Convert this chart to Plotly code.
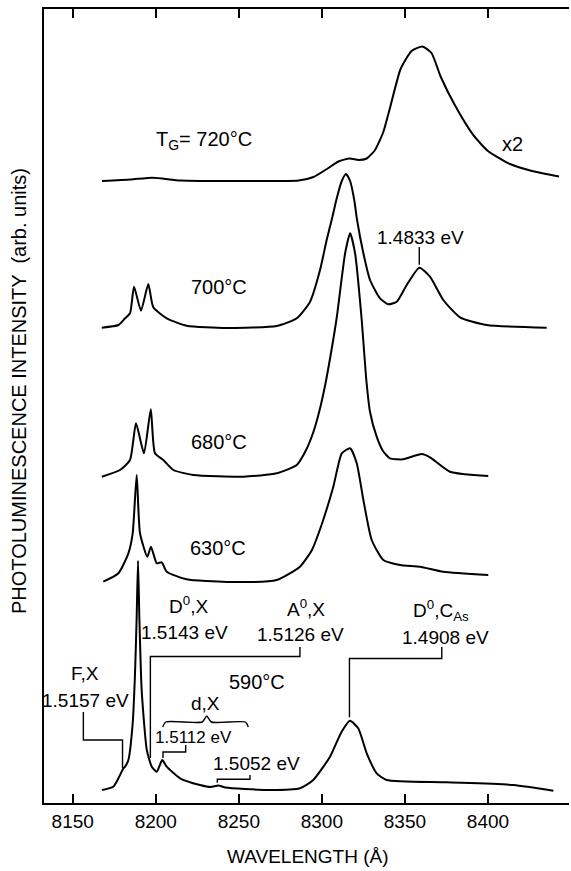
import numpy as np
import plotly.graph_objects as go

# ---------------- data (wavelength in Å, intensity in arb. units above each trace's baseline) -------------
wl_720 = [8167.6, 8185.0, 8198.3, 8215.0, 8250.0, 8286.0, 8295.0, 8303.0, 8310.0, 8316.7, 8322.0,
          8327.0, 8332.0, 8337.0, 8341.0, 8347.4, 8354.0, 8360.5, 8366.0, 8371.5, 8380.2, 8391.0,
          8400.0, 8413.3, 8426.5, 8442.8]
in_720 = [0, 1.5, 3.3, 0.5, 0, 0.5, 4, 12, 19.5, 22.6, 21,
          22.5, 31, 49, 73, 112, 130, 134.4, 128, 104.5, 75.4, 46.3,
          30, 17, 10, 4.4]

wl_700 = [8167.5, 8177.5, 8181.5, 8184.5, 8186.9, 8191.1, 8195.5, 8198.5, 8206.6, 8218.6, 8242.7,
          8272.8, 8284.9, 8292.9, 8298.9, 8302.9, 8305.9, 8309.0, 8312.0, 8314.5, 8317.0, 8319.5,
          8321.2, 8325.0, 8329.0, 8335.0, 8340.0, 8345.1, 8351.1, 8358.7, 8365.1, 8373.1, 8383.2,
          8399.2, 8435.4]
in_700 = [0.3, 3, 9.7, 14.7, 41.3, 17.3, 44, 20.7, 9.7, 2.3, 0,
          2, 9.7, 26.3, 58, 88, 108, 130, 147, 154, 147, 128,
          108, 74.7, 48, 29.7, 23.7, 26.3, 43, 60.3, 51.3, 28, 10.7,
          3, 0.3]

wl_680 = [8167.5, 8178.5, 8184.5, 8188.1, 8192.9, 8197.0, 8199.5, 8204.5, 8210.6, 8222.6, 8252.7,
          8272.8, 8284.9, 8290.5, 8294.9, 8298.5, 8302.0, 8305.5, 8309.0, 8314.0, 8317.0, 8320.0,
          8324.0, 8326.6, 8329.0, 8333.0, 8336.8, 8341.0, 8349.0, 8360.1, 8365.1, 8377.1, 8400.2]
in_680 = [0.3, 7, 17, 53.7, 23.7, 67.7, 23.7, 17, 7, 2, 0.3,
          3.7, 12, 27, 45, 66, 92, 124, 160, 223.7, 243.7, 223.7,
          157, 100, 65, 40.3, 26, 18.7, 17.7, 23, 19.7, 5.3, 1]

wl_630 = [8168.4, 8177.5, 8183.5, 8186.1, 8188.5, 8190.5, 8194.9, 8197.1, 8200.6, 8203.6, 8206.6,
          8218.6, 8242.7, 8272.8, 8286.8, 8294.0, 8300.0, 8306.9, 8312.0, 8317.0, 8321.0, 8325.0,
          8330.0, 8337.0, 8347.1, 8359.1, 8373.1, 8400.2]
in_630 = [0.3, 8.7, 28.7, 48.7, 107, 48.7, 25.3, 35.3, 18.7, 19.7, 10.3,
          2.7, 0, 2, 15.3, 32, 58, 95.3, 128.7, 133.7, 118.7, 82,
          42, 22, 17, 15.3, 10.3, 7]

wl_590 = [8167.5, 8174.4, 8177.5, 8180.5, 8181.5, 8183.5, 8186.1, 8187.5, 8188.5, 8189.3, 8190.1,
          8191.5, 8194.6, 8197.6, 8200.6, 8203.9, 8206.6, 8214.6, 8226.6, 8233.0, 8237.7, 8242.0,
          8266.8, 8286.8, 8294.8, 8304.9, 8311.9, 8316.9, 8321.9, 8327.0, 8333.0, 8339.0, 8375.2,
          8415.3, 8439.4]
in_590 = [0, 3.3, 11.7, 21.7, 23.3, 30, 66.7, 116.7, 173.3, 229.3, 173.3,
          100, 40, 23.3, 18.3, 30, 23.3, 11.7, 5, 3.0, 4.5, 2.5,
          0, 1.7, 10, 33.3, 58.3, 69.3, 61.7, 36.7, 16.7, 10, 7.7,
          5, -0.7]

temps = ["720", "700", "680", "630", "590"]
baselines = [622, 475, 326, 221, 13]

# line energies (eV) of labelled transitions
E_FX, E_D0X, E_A0X, E_dX1, E_dX2, E_DC, E_1483 = 1.5157, 1.5143, 1.5126, 1.5112, 1.5052, 1.4908, 1.4833

x_ticks = [8150, 8200, 8250, 8300, 8350, 8400]

HC = 12398.4  # eV·Å


def lam(e):
    return HC / e


spectra = {
    "720": (wl_720, in_720),
    "700": (wl_700, in_700),
    "680": (wl_680, in_680),
    "630": (wl_630, in_630),
    "590": (wl_590, in_590),
}
base = dict(zip(temps, baselines))


def level(t, w):
    wl, it = spectra[t]
    return base[t] + float(np.interp(w, wl, it))


fig = go.Figure()
for t in temps:
    wl, it = spectra[t]
    fig.add_trace(go.Scatter(
        x=wl, y=[base[t] + v for v in it], mode="lines",
        line=dict(color="black", width=2, shape="spline", smoothing=0.55),
        showlegend=False, hoverinfo="skip"))

LW = 1.4


def leader(points):
    xs, ys = zip(*points)
    fig.add_trace(go.Scatter(x=xs, y=ys, mode="lines",
                             line=dict(color="black", width=LW),
                             showlegend=False, hoverinfo="skip"))


# 1.4833 eV
leader([(lam(E_1483), 556), (lam(E_1483), level("700", lam(E_1483)) + 3)])
# F,X
leader([(8156.4, 91), (8156.4, 63), (lam(E_FX), 63), (lam(E_FX), level("590", lam(E_FX)) + 2)])
# A0,X
leader([(8286.8, 156), (8286.8, 146.5), (lam(E_A0X), 146.5), (lam(E_A0X), level("590", lam(E_A0X)) + 4)])
# D0,C_As
leader([(8372.2, 156), (8372.2, 144.5), (lam(E_DC), 144.5), (lam(E_DC), level("590", lam(E_DC)) + 4)])
# 1.5112 eV
leader([(8218.0, 58), (8218.0, 51), (lam(E_dX1), 51), (lam(E_dX1), level("590", lam(E_dX1)) + 3)])
# 1.5052 eV
leader([(8256.7, 28), (8256.7, 23.7), (lam(E_dX2), 23.7), (lam(E_dX2), level("590", lam(E_dX2)) + 3)])
# d,X brace
fig.add_trace(go.Scatter(
    x=[8204.2, 8206.0, 8228.0, 8230.7, 8233.4, 8254.0, 8255.7],
    y=[76, 81, 81, 87, 81, 81, 76], mode="lines",
    line=dict(color="black", width=LW, shape="spline", smoothing=0.6),
    showlegend=False, hoverinfo="skip"))

FONT = "Liberation Sans"
labels = [
    ("T<sub>G</sub>= 720°C", 8229.0, 663, 20),
    ("x2", 8415.0, 659, 20),
    ("700°C", 8238.0, 516, 20),
    ("1.4833 eV", 8359.4, 566, 19),
    ("680°C", 8238.0, 361, 20),
    ("630°C", 8237.5, 255, 20),
    ("590°C", 8261.0, 121, 20),
    ("F,X", 8157.4, 130, 19),
    ("1.5157 eV", 8157.4, 103, 19),
    ("D<sup>0</sup>,X", 8219.4, 198, 19),
    ("1.5143 eV", 8217.0, 171, 19),
    ("A<sup>0</sup>,X", 8290.4, 195, 19),
    ("1.5126 eV", 8287.4, 169, 19),
    ("D<sup>0</sup>,C<sub>As</sub>", 8371.7, 193, 19),
    ("1.4908 eV", 8374.7, 166, 19),
    ("d,X", 8229.7, 100, 19),
    ("1.5112 eV", 8223.0, 66, 17),
    ("1.5052 eV", 8260.4, 40, 19),
]
for txt, x, y, s in labels:
    fig.add_annotation(x=x, y=y, xref="x", yref="y", text=txt, showarrow=False,
                       font=dict(family=FONT, size=s, color="black"),
                       xanchor="center", yanchor="middle")

W, H = 571, 871
L, R, T, B = 44, 2, 9, 68

# axis titles (positions given in page pixels, converted to paper fractions)
fig.add_annotation(x=(308 - L) / (W - L - R), y=(H - 857 - B) / (H - T - B), xref="paper", yref="paper",
                   text="WAVELENGTH (Å)",
                   showarrow=False, font=dict(family=FONT, size=19, color="black"),
                   xanchor="center", yanchor="middle")
fig.add_annotation(x=(19 - L) / (W - L - R), y=(H - 391 - B) / (H - T - B), xref="paper", yref="paper",
                   text="PHOTOLUMINESCENCE INTENSITY  (arb. units)", textangle=-90,
                   showarrow=False, font=dict(family=FONT, size=20, color="black"),
                   xanchor="center", yanchor="middle")

fig.update_layout(
    width=W, height=H,
    margin=dict(l=L, r=R, t=T, b=B),
    plot_bgcolor="white", paper_bgcolor="white",
    xaxis=dict(range=[8132.7, 8448.8], tickvals=x_ticks, ticktext=[str(v) for v in x_ticks],
               ticks="inside", ticklen=9, tickwidth=1.5, tickcolor="black",
               showline=True, linecolor="black", linewidth=2, mirror="ticks",
               showgrid=False, zeroline=False,
               tickfont=dict(family=FONT, size=19, color="black")),
    yaxis=dict(range=[0, 794], showline=True, linecolor="black", linewidth=2, mirror=False,
               ticks="", showticklabels=False, showgrid=False, zeroline=False),
)

fig.write_html("out.html")
